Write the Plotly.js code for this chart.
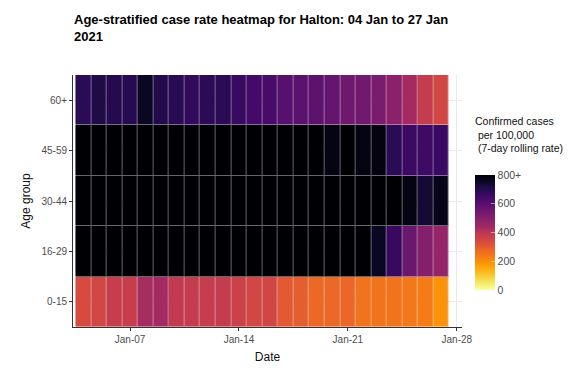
<!DOCTYPE html>
<html>
<head>
<meta charset="utf-8">
<script src="https://cdn.plot.ly/plotly-3.0.1.min.js"></script>
<style>html,body{margin:0;padding:0;background:#fff;}#chart{width:581px;height:372px;}</style>
</head>
<body>
<div id="chart"></div>
<script>
// Dates (x categories)
const dates = [
  '2021-01-04','2021-01-05','2021-01-06','2021-01-07','2021-01-08','2021-01-09',
  '2021-01-10','2021-01-11','2021-01-12','2021-01-13','2021-01-14','2021-01-15',
  '2021-01-16','2021-01-17','2021-01-18','2021-01-19','2021-01-20','2021-01-21',
  '2021-01-22','2021-01-23','2021-01-24','2021-01-25','2021-01-26','2021-01-27'
];
// Age groups (y categories, bottom to top)
const ageGroups = ['0-15','16-29','30-44','45-59','60+'];

// 7-day rolling case rate per 100,000 (values >= 800 shown as 800+)
const rate0_15  = [340,348,376,376,432,436,388,380,376,380,364,348,350,304,296,276,276,280,252,248,250,240,232,192];
const rate16_29 = [850,850,850,850,850,850,850,850,850,850,850,850,850,850,850,850,850,850,850,760,665,560,504,472];
const rate30_44 = [850,850,850,850,850,850,850,850,850,850,850,850,850,850,850,850,850,850,850,850,850,780,735,770];
const rate45_59 = [850,850,850,850,850,850,850,850,850,850,850,850,850,850,850,850,780,850,780,785,690,656,655,660];
const rate60p   = [688,712,700,696,760,704,692,676,688,688,664,640,632,600,592,588,572,552,544,524,492,436,380,348];

// Colorbar tick labels
const cbTickVals = [0,200,400,600,800];
const cbTickText = ['0','200','400','600','800+'];
const cbTitle = 'Confirmed cases<br>\u00a0per 100,000<br>\u00a0(7-day rolling rate)';

const infernoR = [
  [0.00,'#fcffa4'],[0.05,'#f3ee70'],[0.10,'#f6d746'],[0.15,'#f9be23'],[0.20,'#fca50a'],
  [0.25,'#f98e09'],[0.30,'#f37819'],[0.35,'#eb6628'],[0.40,'#dd513a'],[0.45,'#cc4248'],
  [0.50,'#bc3754'],[0.55,'#a12a63'],[0.60,'#8f2469'],[0.65,'#7c1d6d'],[0.70,'#6a176e'],
  [0.75,'#57106e'],[0.80,'#450a69'],[0.85,'#2f0a5b'],[0.90,'#1b0c41'],[0.95,'#0a0722'],
  [1.00,'#000004']
];

const zData = [rate0_15, rate16_29, rate30_44, rate45_59, rate60p];
const FONT = 'Liberation Sans, Arial, sans-serif';

// faded underlay so cell borders look like translucent white lines
const under = {
  type: 'heatmap', x: dates, y: ageGroups, z: zData,
  zmin: 0, zmax: 800, colorscale: infernoR,
  opacity: 0.6, showscale: false, hoverinfo: 'skip'
};

const trace = {
  type: 'heatmap',
  x: dates,
  y: ageGroups,
  z: zData,
  zmin: 0, zmax: 800,
  colorscale: infernoR,
  xgap: 1, ygap: 1,
  colorbar: {
    xref: 'paper', x: (475-73)/389, xanchor: 'left',
    yref: 'paper', y: (327-290)/252, yanchor: 'bottom',
    len: 115, lenmode: 'pixels',
    thickness: 20, thicknessmode: 'pixels',
    outlinewidth: 0, xpad: 0, ypad: 0,
    tickvals: cbTickVals, ticktext: cbTickText,
    ticks: 'inside', ticklen: 4, tickcolor: 'rgba(255,255,255,0.5)',
    tickfont: {family: FONT, size: 10.5, color: '#4d4d4d'}
  }
};

const layout = {
  width: 581, height: 372,
  margin: {l: 73, r: 119, t: 75, b: 45},
  paper_bgcolor: '#fff', plot_bgcolor: '#fff',
  font: {family: FONT, color: '#4d4d4d', size: 10},
  title: {
    text: '<b>Age-stratified case rate heatmap for Halton: 04 Jan to 27 Jan<br>2021</b>',
    xref: 'container', x: 74/581, xanchor: 'left',
    yref: 'container', y: 1 - 24/372, yanchor: 'top',
    font: {family: FONT, size: 13, color: '#000'}
  },
  annotations: [{
    text: cbTitle, showarrow: false, align: 'left',
    xref: 'paper', x: (473-73)/389, xanchor: 'left',
    yref: 'paper', y: (327-113)/252, yanchor: 'top',
    font: {family: FONT, size: 10.5, color: '#111'}
  }],
  xaxis: {
    type: 'date',
    range: ['2021-01-03 08:00', '2021-01-28 08:00'],
    tick0: '2021-01-07', dtick: 7*24*3600*1000,
    tickformat: '%b-%d',
    showline: true, linecolor: '#333', linewidth: 1,
    ticks: 'outside', ticklen: 3, tickcolor: '#333',
    showgrid: true, gridcolor: '#ebebeb',
    zeroline: false,
    tickfont: {size: 10, color: '#4d4d4d'},
    title: {text: 'Date', standoff: 8, font: {size: 12, color: '#111'}}
  },
  yaxis: {
    type: 'category',
    range: [-0.5, 4.5],
    showline: true, linecolor: '#333', linewidth: 1,
    ticks: 'outside', ticklen: 3, tickcolor: '#333',
    showgrid: true, gridcolor: '#ebebeb',
    zeroline: false,
    tickfont: {size: 10, color: '#4d4d4d'},
    title: {text: 'Age group', standoff: 8, font: {size: 12, color: '#111'}}
  }
};

Plotly.newPlot('chart', [under, trace], layout, {displayModeBar: false, staticPlot: true});
</script>
</body>
</html>
